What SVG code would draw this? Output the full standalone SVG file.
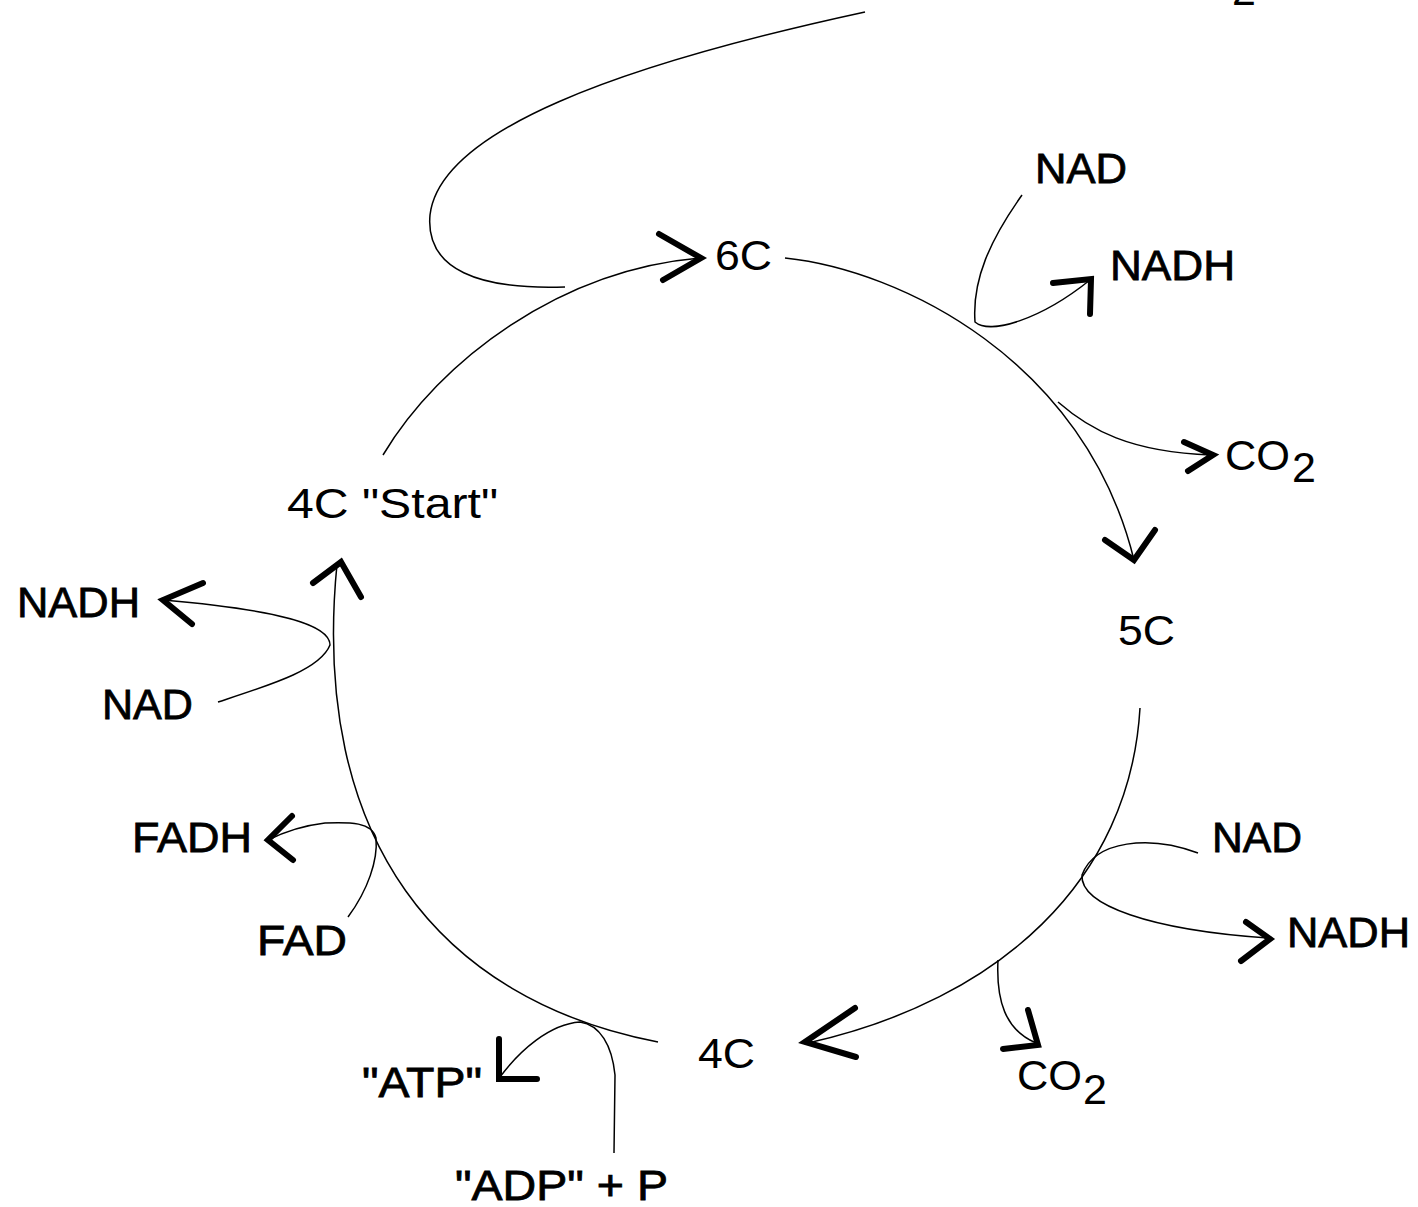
<svg xmlns="http://www.w3.org/2000/svg" width="1418" height="1207" viewBox="0 0 1418 1207">
<style>
text{font-family:"Liberation Sans",Arial,sans-serif;font-size:43px;fill:#000}
.b{stroke:#000;stroke-width:0.8}
.ln{fill:none;stroke:#000;stroke-width:1.5}
.ah{fill:none;stroke:#000;stroke-width:6;stroke-linecap:round;stroke-linejoin:miter}
</style>
<rect width="1418" height="1207" fill="#fff"/>
<g id="connectors">
<path class="ln" d="M865,12 C620,65 440,130 430,215 C425,270 480,290 565,287"/>
<path class="ln" d="M383,455 C440,360 560,270 700,258"/>
<path class="ln" d="M785,258 C900,270 1085,360 1134,560"/>
<path class="ln" d="M1140,708 C1130,880 1000,1000 808,1043"/>
<path class="ln" d="M658,1042 C440,1000 310,840 337,564"/>
<path class="ln" d="M1022,195 C990,240 972,280 975,322 C990,335 1040,320 1090,280"/>
<path class="ln" d="M1058,402 C1090,430 1130,452 1211,455"/>
<path class="ln" d="M1198,853 C1150,835 1095,840 1082,875 C1080,905 1150,930 1268,938"/>
<path class="ln" d="M998,960 C996,1000 1005,1030 1036,1043"/>
<path class="ln" d="M614,1153 L615,1075 C612,1045 600,1025 580,1022 C550,1024 520,1050 500,1077"/>
<path class="ln" d="M348,917 C368,890 378,860 376,838 C372,822 350,822 325,823 C300,826 282,833 268,840"/>
<path class="ln" d="M218,702 C270,685 320,670 330,645 C330,625 280,610 163,600"/>
<polyline class="ah" points="659,234 701,258 663,280"/>
<polyline class="ah" points="1053,283 1091,279 1090,314"/>
<polyline class="ah" points="1184,442 1213,455 1188,471"/>
<polyline class="ah" points="1105,540 1134,560 1155,530"/>
<polyline class="ah" points="1246,922 1270,939 1241,961"/>
<polyline class="ah" points="1028,1010 1038,1045 1003,1049"/>
<polyline class="ah" points="855,1008 805,1042 856,1057"/>
<polyline class="ah" points="499,1039 499,1079 537,1079"/>
<polyline class="ah" points="292,816 268,840 293,860"/>
<polyline class="ah" points="203,583 163,600 192,624"/>
<polyline class="ah" points="313,583 341,562 361,597"/>
</g>
<g id="top-co2-fragment"><text x="1232" y="5">2</text></g>
<g id="n6C"><text x="715" y="270" textLength="57" lengthAdjust="spacingAndGlyphs">6C</text></g>
<g id="nad1"><text class="b" x="1035" y="183" textLength="92" lengthAdjust="spacingAndGlyphs">NAD</text></g>
<g id="nadh1"><text class="b" x="1110" y="280" textLength="125" lengthAdjust="spacingAndGlyphs">NADH</text></g>
<g id="co2a"><text x="1225" y="470" textLength="65" lengthAdjust="spacingAndGlyphs">CO</text><text x="1292" y="482">2</text></g>
<g id="n5C"><text x="1118" y="645" textLength="57" lengthAdjust="spacingAndGlyphs">5C</text></g>
<g id="nad2"><text class="b" x="1212" y="852" textLength="90" lengthAdjust="spacingAndGlyphs">NAD</text></g>
<g id="nadh2"><text class="b" x="1287" y="947" textLength="123" lengthAdjust="spacingAndGlyphs">NADH</text></g>
<g id="co2b"><text x="1017" y="1090" textLength="65" lengthAdjust="spacingAndGlyphs">CO</text><text x="1083" y="1104">2</text></g>
<g id="n4C"><text x="698" y="1068" textLength="57" lengthAdjust="spacingAndGlyphs">4C</text></g>
<g id="atp"><text class="b" x="362" y="1097" textLength="120" lengthAdjust="spacingAndGlyphs">"ATP"</text></g>
<g id="adp"><text class="b" x="455" y="1200" textLength="213" lengthAdjust="spacingAndGlyphs">"ADP" + P</text></g>
<g id="fadh"><text class="b" x="132" y="852" textLength="120" lengthAdjust="spacingAndGlyphs">FADH</text></g>
<g id="fad"><text class="b" x="257" y="955" textLength="90" lengthAdjust="spacingAndGlyphs">FAD</text></g>
<g id="nad3"><text class="b" x="102" y="719" textLength="91" lengthAdjust="spacingAndGlyphs">NAD</text></g>
<g id="nadh3"><text class="b" x="17" y="617" textLength="123" lengthAdjust="spacingAndGlyphs">NADH</text></g>
<g id="n4Cstart"><text x="287" y="518" textLength="211" lengthAdjust="spacingAndGlyphs">4C "Start"</text></g>
</svg>
